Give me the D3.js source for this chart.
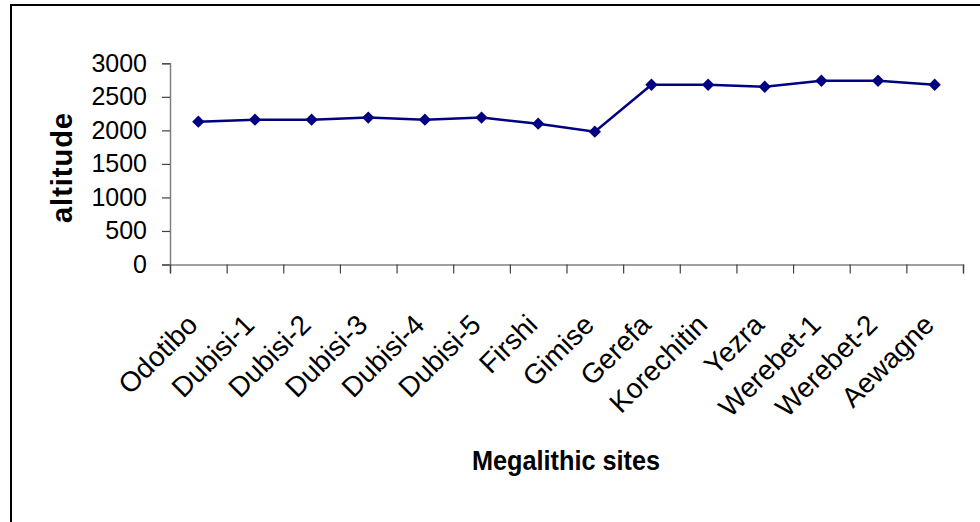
<!DOCTYPE html>
<html>
<head>
<meta charset="utf-8">
<script src="https://cdn.jsdelivr.net/npm/d3@7"></script>
<style>
  html, body { margin: 0; padding: 0; background: #fff; }
  svg { display: block; font-family: Arial, "Liberation Sans", sans-serif; }
</style>
</head>
<body>
<svg id="chart" width="980" height="522"></svg>
<script>
// Megalithic sites and their altitude (m)
const sites = ["Odotibo", "Dubisi-1", "Dubisi-2", "Dubisi-3", "Dubisi-4", "Dubisi-5",
  "Firshi", "Gimise", "Gerefa", "Korechitin", "Yezra", "Werebet-1", "Werebet-2", "Aewagne"];
const altitude = [2130, 2160, 2160, 2190, 2160, 2190, 2100, 1980, 2680, 2680, 2650, 2740, 2740, 2680];
const yTicks = [0, 500, 1000, 1500, 2000, 2500, 3000];
const yTitle = "altitude";
const xTitle = "Megalithic sites";

const svg = d3.select("#chart");
const plotLeft = 170, plotRight = 963, plotTop = 63.3, plotBottom = 264.5;

// outer frame (left and top edges)
svg.append("path")
  .attr("d", "M11,522 V5 H980")
  .attr("fill", "none").attr("stroke", "#000").attr("stroke-width", 2);

const x = d3.scaleBand().domain(sites).range([plotLeft, plotRight]).padding(0);
const xEdge = d3.scaleLinear().domain([0, sites.length]).range([plotLeft, plotRight]);
const y = d3.scaleLinear().domain([0, 3000]).range([plotBottom, plotTop]);

// y axis
const gy = svg.append("g").attr("transform", `translate(${plotLeft},0)`)
  .call(d3.axisLeft(y).tickValues(yTicks).tickSize(8).tickPadding(15).tickFormat(d3.format("d")));
gy.select(".domain").attr("stroke", "#808080").attr("stroke-width", 1.5);
gy.selectAll(".tick line").attr("stroke", "#404040").attr("stroke-width", 1.2);
gy.selectAll(".tick text")
  .attr("font-size", 25).attr("fill", "#000")
  .attr("font-family", "Arial, 'Liberation Sans', sans-serif");

// x axis: tick marks on category boundaries
const gxe = svg.append("g").attr("transform", `translate(0,${plotBottom})`)
  .call(d3.axisBottom(xEdge).tickValues(d3.range(sites.length + 1)).tickSize(9).tickFormat(""));
gxe.select(".domain").attr("stroke", "#808080").attr("stroke-width", 1.5);
gxe.selectAll(".tick line").attr("stroke", "#404040").attr("stroke-width", 1.2);

// x axis: category labels, slanted
const gx = svg.append("g").attr("transform", `translate(0,${plotBottom})`)
  .call(d3.axisBottom(x).tickSize(0));
gx.select(".domain").remove();
gx.selectAll(".tick text")
  .attr("font-size", 28).attr("fill", "#000")
  .attr("font-family", "Arial, 'Liberation Sans', sans-serif")
  .attr("x", 0).attr("y", 0).attr("dy", 0)
  .attr("text-anchor", "end")
  .attr("transform", "translate(1,62) rotate(-45)");

// series line
const line = d3.line()
  .x((d, i) => x(sites[i]) + x.bandwidth() / 2)
  .y(d => y(d));
svg.append("path").datum(altitude)
  .attr("d", line)
  .attr("fill", "none").attr("stroke", "#000080").attr("stroke-width", 2.5);

// diamond markers
const diamond = d3.symbol().type(d3.symbolSquare).size(76);
svg.selectAll(".marker").data(altitude).join("path")
  .attr("class", "marker")
  .attr("d", diamond)
  .attr("transform", (d, i) => `translate(${x(sites[i]) + x.bandwidth() / 2},${y(d)}) rotate(45)`)
  .attr("fill", "#000080");

// axis titles
svg.append("text")
  .attr("transform", "translate(72,168) rotate(-90)")
  .attr("text-anchor", "middle")
  .attr("font-size", 29).attr("font-weight", "bold")
  .attr("textLength", 110).attr("lengthAdjust", "spacing")
  .text(yTitle);

svg.append("text")
  .attr("x", 566).attr("y", 469.5)
  .attr("text-anchor", "middle")
  .attr("font-size", 28).attr("font-weight", "bold")
  .attr("textLength", 188).attr("lengthAdjust", "spacingAndGlyphs")
  .text(xTitle);
</script>
</body>
</html>
